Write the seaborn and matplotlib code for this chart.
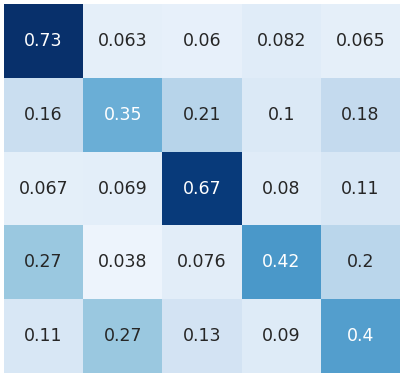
import numpy as np
import matplotlib
matplotlib.use("Agg")
import matplotlib.pyplot as plt
import seaborn as sns

# cell values, row by row
row1 = [0.73, 0.063, 0.06, 0.082, 0.065]
row2 = [0.16, 0.35, 0.21, 0.1, 0.18]
row3 = [0.067, 0.069, 0.67, 0.08, 0.11]
row4 = [0.27, 0.038, 0.076, 0.42, 0.2]
row5 = [0.11, 0.27, 0.13, 0.09, 0.4]

matrix = np.array([row1, row2, row3, row4, row5])

fig = plt.figure(figsize=(4.05, 3.79), dpi=100)
ax = fig.add_axes([4 / 405, 6 / 379, 396 / 405, 369 / 379])
sns.heatmap(matrix, annot=True, cmap="Blues", vmin=0, vmax=0.7, cbar=False,
            xticklabels=False, yticklabels=False, ax=ax,
            annot_kws={"fontsize": 12.5})
fig.savefig("out.png", dpi=100)
